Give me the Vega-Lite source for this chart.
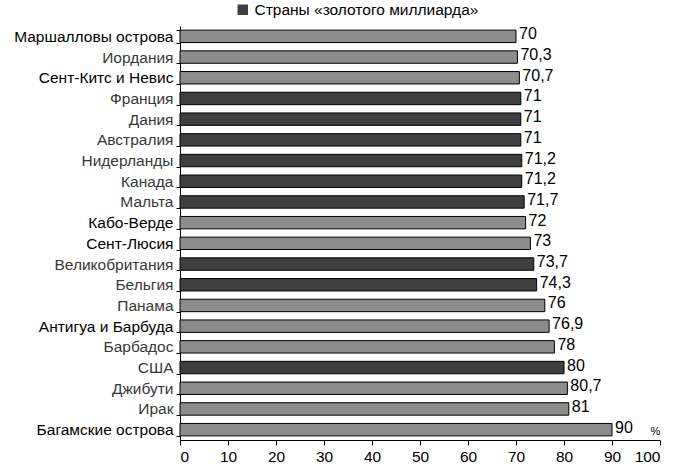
{
  "$schema": "https://vega.github.io/schema/vega-lite/v6.json",
  "width": 480,
  "height": 414,
  "autosize": {"type": "none"},
  "padding": {"left": 180, "top": 26, "right": 20, "bottom": 30},
  "background": "white",
  "config": {
    "locale": {"number": {"decimal": ",", "thousands": " ", "grouping": [3], "currency": ["", ""]}},
    "view": {"stroke": null},
    "font": "Liberation Sans"
  },
  "data": {
    "values": [
      {"country": "Маршалловы острова", "value": 70, "group": "Другие страны"},
      {"country": "Иордания", "value": 70.3, "group": "Другие страны"},
      {"country": "Сент-Китс и Невис", "value": 70.7, "group": "Другие страны"},
      {"country": "Франция", "value": 71, "group": "Страны «золотого  миллиарда»"},
      {"country": "Дания", "value": 71, "group": "Страны «золотого  миллиарда»"},
      {"country": "Австралия", "value": 71, "group": "Страны «золотого  миллиарда»"},
      {"country": "Нидерланды", "value": 71.2, "group": "Страны «золотого  миллиарда»"},
      {"country": "Канада", "value": 71.2, "group": "Страны «золотого  миллиарда»"},
      {"country": "Мальта", "value": 71.7, "group": "Страны «золотого  миллиарда»"},
      {"country": "Кабо-Верде", "value": 72, "group": "Другие страны"},
      {"country": "Сент-Люсия", "value": 73, "group": "Другие страны"},
      {"country": "Великобритания", "value": 73.7, "group": "Страны «золотого  миллиарда»"},
      {"country": "Бельгия", "value": 74.3, "group": "Страны «золотого  миллиарда»"},
      {"country": "Панама", "value": 76, "group": "Другие страны"},
      {"country": "Антигуа и Барбуда", "value": 76.9, "group": "Другие страны"},
      {"country": "Барбадос", "value": 78, "group": "Другие страны"},
      {"country": "США", "value": 80, "group": "Страны «золотого  миллиарда»"},
      {"country": "Джибути", "value": 80.7, "group": "Другие страны"},
      {"country": "Ирак", "value": 81, "group": "Другие страны"},
      {"country": "Багамские острова", "value": 90, "group": "Другие страны"}
    ]
  },
  "encoding": {
    "y": {
      "field": "country",
      "type": "nominal",
      "sort": null,
      "scale": {"paddingInner": 0.4, "paddingOuter": 0.2},
      "axis": {
        "title": null,
        "tickBand": "extent",
        "tickSize": 4,
        "tickColor": "black",
        "domainColor": "black",
        "labelFontSize": 15.5,
        "labelPadding": 3,
        "labelLimit": 0,
        "labelColor": {
          "condition": {"test": "indexof(['Маршалловы острова','Сент-Китс и Невис','Кабо-Верде','Сент-Люсия','Антигуа и Барбуда','Багамские острова'], datum.value) >= 0", "value": "#000000"},
          "value": "#383838"
        }
      }
    },
    "x": {
      "field": "value",
      "type": "quantitative",
      "scale": {"domain": [0, 100]},
      "axis": {
        "values": [0, 10, 20, 30, 40, 50, 60, 70, 80, 90, 100],
        "grid": false,
        "tickSize": 5,
        "tickColor": "black",
        "domainColor": "black",
        "labelFontSize": 15.5,
        "labelColor": "black",
        "labelPadding": 4,
        "title": "%",
        "titleFontSize": 11,
        "titleFontWeight": "normal",
        "titleX": 475,
        "titleY": -9,
        "titleBaseline": "middle",
        "titleAlign": "center"
      }
    }
  },
  "layer": [
    {
      "mark": {"type": "bar", "stroke": "black", "strokeWidth": 1},
      "encoding": {
        "color": {
          "field": "group",
          "type": "nominal",
          "scale": {"domain": ["Страны «золотого  миллиарда»", "Другие страны"], "range": ["#3f3f3f", "#8c8c8c"]},
          "legend": {
            "values": ["Страны «золотого  миллиарда»"],
            "title": null,
            "orient": "none",
            "legendX": 55,
            "legendY": -24,
            "symbolType": "square",
            "symbolSize": 110,
            "symbolStrokeWidth": 0,
            "symbolOpacity": 1,
            "labelFontSize": 15.5,
            "labelLimit": 0,
            "labelColor": "black"
          }
        }
      }
    },
    {
      "mark": {"type": "text", "align": "left", "baseline": "middle", "dx": 3, "dy": -2, "fontSize": 16, "color": "black"},
      "encoding": {
        "text": {"field": "value", "type": "quantitative", "format": ".1~f"}
      }
    }
  ]
}
